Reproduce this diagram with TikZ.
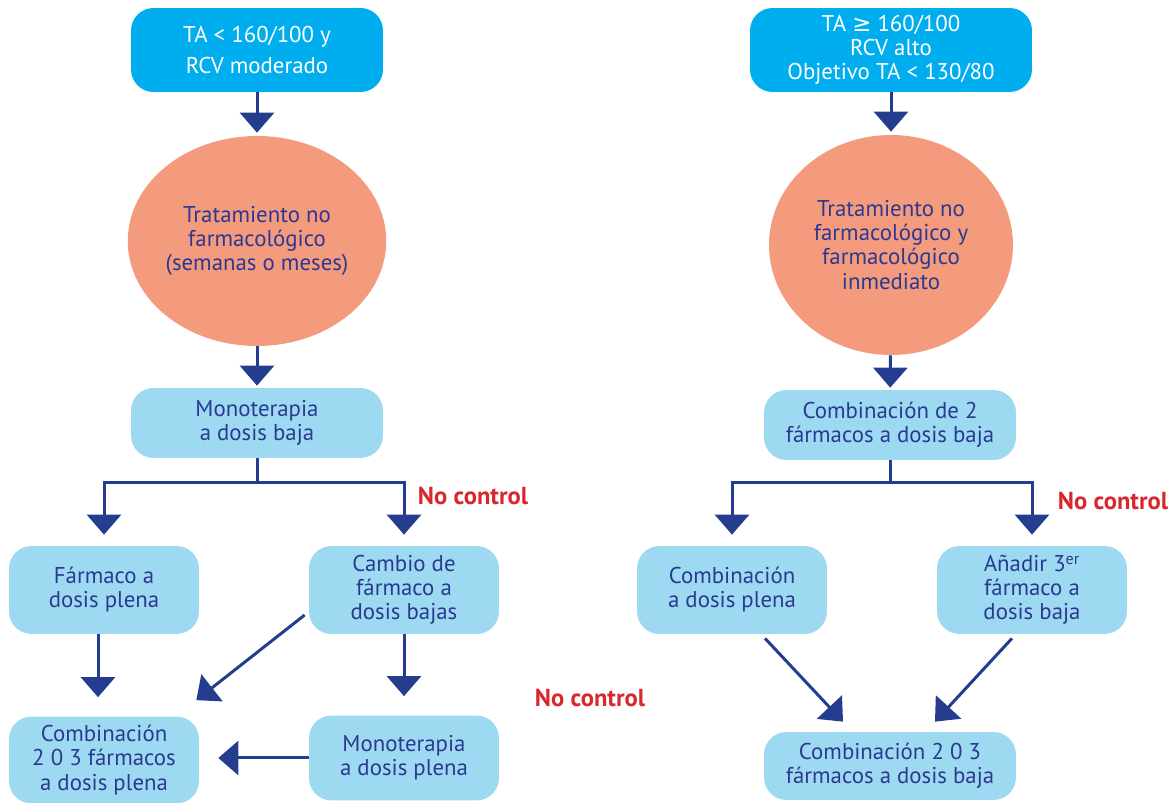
\documentclass[tikz,border=0pt]{standalone}
\usepackage{fontspec}
\setmainfont{PT Sans}
\newfontfamily\symbfont{DejaVu Sans}
\usepackage{xcolor}
\usetikzlibrary{arrows.meta, positioning, shapes.geometric}
\definecolor{topcyan}{HTML}{00AEEF}
\definecolor{salmon}{HTML}{F49B7E}
\definecolor{paleblue}{HTML}{9DDAF2}
\definecolor{navy}{HTML}{2B3990}
\definecolor{arrowblue}{HTML}{253D8E}
\definecolor{alertred}{HTML}{D9272E}
\tikzset{
    every node/.style={font=\fontsize{13}{13.7}\selectfont, align=center}, % one size for every label
    topbox/.style={fill=topcyan, text=white, rounded corners=0.45cm,
        minimum width=5.04cm, minimum height=1.68cm}, % the two starting boxes
    treat/.style={ellipse, fill=salmon, text=navy, inner sep=0pt}, % the two orange ellipses
    stepbox/.style={fill=paleblue, text=navy, rounded corners=0.45cm,
        minimum width=3.8cm, minimum height=1.76cm}, % the light blue boxes
    widebox/.style={stepbox, minimum width=5.04cm, minimum height=1.4cm}, % wider light blue boxes
    alert/.style={text=alertred, font=\fontsize{14}{14}\selectfont\bfseries}, % red remarks
}
\tikzstyle{arrow} = [line width=0.06cm, draw=arrowblue, -{Triangle[width=0.68cm,length=0.4cm]}]
\tikzstyle{link} = [line width=0.06cm, draw=arrowblue]

\begin{document}
\begin{tikzpicture}[x=0.02cm, y=-0.02cm]
    \useasboundingbox (0,0) rectangle (1174,803);

    % left column
    \node[topbox] (startL) at (257,50) {TA < 160/100 y\\[0.12cm] RCV moderado};
    \node[treat, minimum width=4.88cm, minimum height=4.2cm] (treatL) at (257,241)
        {Tratamiento no\\ farmacológico\\ (semanas o meses)};
    \node[widebox] (monoL) at (257,423) {Monoterapia\\ a dosis baja};
    \coordinate (splitL) at (257,483);
    \node[stepbox] (farmL) at (104,590) {Fármaco a\\ dosis plena};
    \node[stepbox] (cambioL) at (404,590) {Cambio de\\ fármaco a\\ dosis bajas};
    \node[stepbox, minimum height=1.74cm] (combL) at (104,760) {Combinación\\ 2 0 3 fármacos\\ a dosis plena};
    \node[stepbox, minimum height=1.7cm] (monoplenaL) at (404,758) {Monoterapia\\ a dosis plena};
    \node[alert] (alertA) at (473,496) {No control};
    \node[alert] (alertB) at (590,698) {No control};

    \draw[arrow, shorten >=0.06cm] (startL) -- (treatL);
    \draw[arrow, shorten >=0.04cm] (treatL) -- (monoL);
    \draw[link] (monoL) -- (splitL);
    \draw[arrow, shorten >=0.22cm] (splitL) -| (farmL);
    \draw[arrow, shorten >=0.22cm] (splitL) -| (cambioL);
    \draw[arrow, shorten >=0.38cm] ([xshift=-0.12cm]farmL.south) -- ([xshift=-0.12cm]combL.north);
    \draw[arrow] ([shift={(-0.08cm,-0.5cm)}]cambioL.west) -- ([shift={(-0.06cm,0.32cm)}]combL.north east);
    \draw[arrow, shorten >=0.38cm] (cambioL) -- (monoplenaL);
    \draw[arrow, shorten >=0.38cm] (monoplenaL.west) -- (monoplenaL.west -| combL.east);

    % right column
    \node[topbox, minimum width=5.64cm] (startR) at (891,50)
        {TA {\symbfont ≥} 160/100\\ RCV alto\\ Objetivo TA < 130/80};
    \node[treat, minimum width=4.88cm, minimum height=4.4cm] (treatR) at (891,245)
        {Tratamiento no\\ farmacológico y\\ farmacológico\\ inmediato};
    \node[widebox] (combdosR) at (890,425) {Combinación de 2\\ fármacos a dosis baja};
    \coordinate (splitR) at (890,483);
    \node[stepbox] (combplR) at (732,590) {Combinación\\ a dosis plena};
    \node[stepbox] (anadirR) at (1032,590) {Añadir 3\textsuperscript{er}\\ fármaco a\\ dosis baja};
    \node[widebox, minimum height=1.36cm] (combbajaR) at (890,766) {Combinación 2 0 3\\ fármacos a dosis baja};
    \node[alert] (alertC) at (1113,501) {No control};

    \draw[arrow, shorten >=0.06cm] (startR) -- (treatR);
    \draw[arrow, shorten >=0.04cm] (treatR) -- (combdosR);
    \draw[link] (combdosR) -- (splitR);
    \draw[arrow, shorten >=0.22cm] (splitR) -| (combplR);
    \draw[arrow, shorten >=0.22cm] (splitR) -| (anadirR);
    \draw[arrow] ([shift={(0.66cm,-0.08cm)}]combplR.south) -- ([shift={(-0.94cm,0.2cm)}]combbajaR.north);
    \draw[arrow] ([shift={(-0.4cm,-0.08cm)}]anadirR.south) -- ([shift={(0.9cm,0.2cm)}]combbajaR.north);
\end{tikzpicture}
\end{document}
